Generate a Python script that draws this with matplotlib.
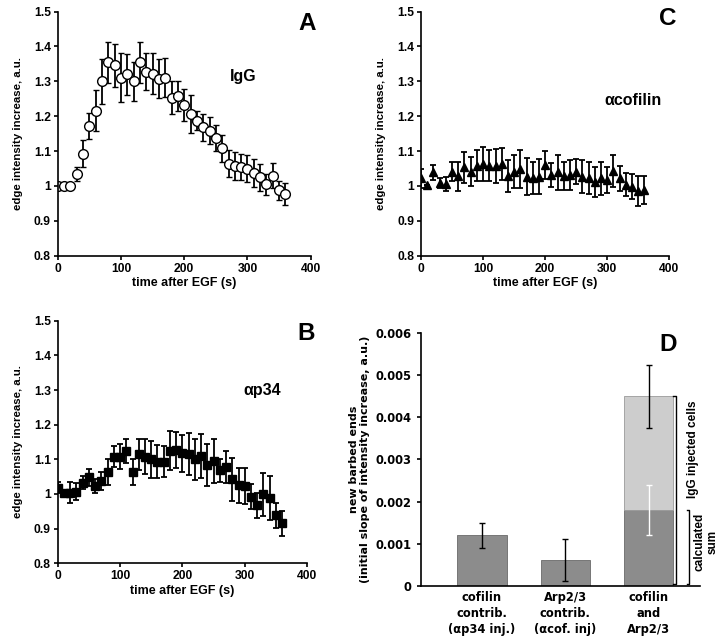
import numpy as np
import matplotlib
matplotlib.use('Agg')
import matplotlib.pyplot as plt
from matplotlib.ticker import FuncFormatter

# time points (s), shared by panels A, B, C
time_s = list(range(0, 370, 10))

# panel A: IgG
igg_mean = [1.0, 1.0, 1.0, 1.035, 1.093, 1.172, 1.216, 1.30, 1.354, 1.346,
            1.31, 1.32, 1.30, 1.355, 1.328, 1.322, 1.308, 1.31, 1.253, 1.258,
            1.231, 1.207, 1.187, 1.168, 1.158, 1.137, 1.108, 1.064, 1.058, 1.055,
            1.049, 1.038, 1.025, 1.005, 1.03, 0.988, 0.977]
igg_err = [0.004, 0.0, 0.0, 0.02, 0.04, 0.037, 0.058, 0.065, 0.058, 0.061,
           0.07, 0.058, 0.055, 0.059, 0.053, 0.058, 0.057, 0.056, 0.048, 0.043,
           0.046, 0.055, 0.027, 0.038, 0.039, 0.037, 0.038, 0.038, 0.04, 0.037,
           0.039, 0.04, 0.038, 0.03, 0.036, 0.027, 0.032]

# panel B: alpha p34
p34_mean = [1.018, 1.002, 1.004, 1.007, 1.033, 1.048, 1.024, 1.038, 1.063, 1.108,
            1.108, 1.124, 1.063, 1.115, 1.108, 1.10, 1.093, 1.093, 1.125, 1.127,
            1.117, 1.115, 1.10, 1.11, 1.084, 1.095, 1.069, 1.079, 1.042, 1.025,
            1.024, 0.992, 0.968, 0.999, 0.989, 0.939, 0.915]
p34_err = [0.016, 0.01, 0.03, 0.025, 0.02, 0.025, 0.02, 0.026, 0.037, 0.031,
           0.036, 0.036, 0.038, 0.045, 0.05, 0.054, 0.048, 0.045, 0.057, 0.051,
           0.053, 0.06, 0.06, 0.064, 0.06, 0.063, 0.033, 0.046, 0.063, 0.051,
           0.052, 0.036, 0.036, 0.063, 0.063, 0.036, 0.036]

# panel C: alpha cofilin
cof_mean = [1.022, 1.003, 1.039, 1.008, 1.006, 1.041, 1.028, 1.053, 1.041, 1.058,
            1.063, 1.058, 1.057, 1.063, 1.029, 1.041, 1.049, 1.026, 1.024, 1.027,
            1.06, 1.031, 1.039, 1.029, 1.031, 1.041, 1.027, 1.022, 1.012, 1.022,
            1.017, 1.043, 1.022, 1.003, 0.998, 0.985, 0.988]
cof_err = [0.027, 0.0, 0.022, 0.015, 0.02, 0.027, 0.042, 0.045, 0.042, 0.045,
           0.05, 0.045, 0.048, 0.047, 0.046, 0.048, 0.054, 0.053, 0.046, 0.05,
           0.04, 0.035, 0.05, 0.04, 0.043, 0.035, 0.048, 0.046, 0.043, 0.048,
           0.038, 0.045, 0.035, 0.033, 0.036, 0.043, 0.041]

# panel D: new barbed ends
bar_labels = ['cofilin\ncontrib.\n(\u03b1p34 inj.)',
              'Arp2/3\ncontrib.\n(\u03b1cof. inj)',
              'cofilin\nand\nArp2/3']
contrib_mean = [0.0012, 0.0006]
contrib_err = [0.0003, 0.0005]
calc_sum = 0.0018
calc_sum_err = 0.0006
igg_total = 0.0045
igg_total_err = 0.00075

ARIAL = ['Liberation Sans', 'DejaVu Sans']
VERDANA = ['DejaVu Sans']


def gfmt(v, pos):
    return '%g' % round(v, 4)


def styleLinePanel(ax):
    ax.set_xlim(0, 400)
    ax.set_ylim(0.8, 1.5)
    ax.set_xticks([0, 100, 200, 300, 400])
    ax.set_yticks(np.arange(0.8, 1.51, 0.1))
    ax.yaxis.set_major_formatter(FuncFormatter(gfmt))
    for s in ['top', 'right']:
        ax.spines[s].set_visible(False)
    for s in ['left', 'bottom']:
        ax.spines[s].set_linewidth(1.2)
    ax.tick_params(direction='out', length=3, width=1.2, labelsize=8.7, pad=2)
    for lab in ax.get_xticklabels() + ax.get_yticklabels():
        lab.set_family(ARIAL)
        lab.set_fontweight('bold')
    ax.set_xlabel('time after EGF (s)', fontsize=9, fontweight='bold', family=ARIAL, labelpad=2)
    ax.set_ylabel('edge intensity increase, a.u.', fontsize=8.2, fontweight='bold', family=ARIAL, labelpad=8)


def panelLetter(ax, letter, x, y):
    ax.text(x, y, letter, transform=ax.transAxes, fontsize=17.5, fontweight='bold', family=ARIAL,
            ha='right', va='top')


fig = plt.figure(figsize=(7.25, 6.41), dpi=100)

# A
axA = fig.add_axes([0.0796, 0.601, 0.349, 0.381])
axA.errorbar(time_s, igg_mean, yerr=igg_err, fmt='o', color='black', mfc='white', mec='black',
             ms=7, mew=1, ecolor='black', elinewidth=1.3, capsize=2.3, capthick=1.3)
styleLinePanel(axA)
panelLetter(axA, 'A', 1.02, 1.0)
axA.text(0.735, 0.732, 'IgG', transform=axA.transAxes, fontsize=11.5, fontweight='bold', family=ARIAL,
         ha='center', va='center')

# C
axC = fig.add_axes([0.5807, 0.601, 0.3425, 0.381])
axC.errorbar(time_s, cof_mean, yerr=cof_err, fmt='^', color='black', ms=6,
             ecolor='black', elinewidth=1.3, capsize=2.3, capthick=1.3)
styleLinePanel(axC)
panelLetter(axC, 'C', 1.03, 1.02)
axC.text(0.852, 0.634, '\u03b1cofilin', transform=axC.transAxes, fontsize=11.5, fontweight='bold',
         family=ARIAL, ha='center', va='center')

# B
axB = fig.add_axes([0.0796, 0.1212, 0.344, 0.3785])
axB.errorbar(time_s, p34_mean, yerr=p34_err, fmt='s', color='black', ms=5.5,
             ecolor='black', elinewidth=1.3, capsize=2.3, capthick=1.3)
styleLinePanel(axB)
panelLetter(axB, 'B', 1.03, 0.995)
axB.text(0.82, 0.711, '\u03b1p34', transform=axB.transAxes, fontsize=11.5, fontweight='bold',
         family=ARIAL, ha='center', va='center')

# D
axD = fig.add_axes([0.5803, 0.0863, 0.3852, 0.3938])
dark = '#8c8c8c'
light = '#cdcdcd'
width = 0.59
xpos = np.arange(len(bar_labels))
axD.bar(xpos[:2], contrib_mean, width=width, color=dark, edgecolor='#6a6a6a', linewidth=0.6)
axD.errorbar(xpos[:2], contrib_mean, yerr=contrib_err, fmt='none', ecolor='black',
             elinewidth=1.0, capsize=2.5, capthick=1.0)
axD.bar(xpos[2], calc_sum, width=width, color=dark, edgecolor='#6a6a6a', linewidth=0.6)
axD.bar(xpos[2], igg_total - calc_sum, bottom=calc_sum, width=width, color=light,
        edgecolor='#9a9a9a', linewidth=0.6)
axD.errorbar([xpos[2]], [calc_sum], yerr=[calc_sum_err], fmt='none', ecolor='white',
             elinewidth=1.0, capsize=2.5, capthick=1.0)
axD.errorbar([xpos[2]], [igg_total], yerr=[igg_total_err], fmt='none', ecolor='black',
             elinewidth=1.0, capsize=2.5, capthick=1.0)

# brackets
bx1 = xpos[2] + width / 2 + 0.035
bx2 = bx1 + 0.16
tick = 0.035
axD.plot([bx1 - tick, bx1, bx1, bx1 - tick], [igg_total, igg_total, 0.00003, 0.00003],
         color='black', lw=1.0, clip_on=False)
axD.plot([bx2 - tick, bx2, bx2, bx2 - tick], [calc_sum, calc_sum, 0.00003, 0.00003],
         color='black', lw=1.0, clip_on=False)
axD.text(bx1 + 0.2, 0.00325, 'IgG injected cells', rotation=90, fontsize=8.5, fontweight='bold',
         family=ARIAL, ha='center', va='center')
axD.text(bx2 + 0.2, 0.00104, 'calculated\nsum', rotation=90, fontsize=8.5, fontweight='bold',
         family=ARIAL, ha='center', va='center', linespacing=1.05)

axD.set_xlim(-0.736, 2.616)
axD.set_ylim(0, 0.006)
axD.set_yticks(np.arange(0, 0.0061, 0.001))
axD.yaxis.set_major_formatter(FuncFormatter(gfmt))
axD.set_xticks(xpos)
axD.set_xticklabels(bar_labels)
axD.tick_params(axis='x', length=0, pad=4)
axD.tick_params(axis='y', direction='out', length=3, width=1.2)
axD.tick_params(labelsize=8.3)
for lab in axD.get_yticklabels():
    lab.set_family(VERDANA)
    lab.set_fontweight('bold')
for lab in axD.get_xticklabels():
    lab.set_family(VERDANA)
    lab.set_fontweight('bold')
    lab.set_linespacing(1.28)
for s in ['top', 'right']:
    axD.spines[s].set_visible(False)
for s in ['left', 'bottom']:
    axD.spines[s].set_linewidth(1.2)
axD.set_ylabel('new barbed ends\n(initial slope of intensity increase, a.u.)', fontsize=8,
               fontweight='bold', family=VERDANA, labelpad=4, linespacing=1.1)
panelLetter(axD, 'D', 0.918, 1.0)

fig.savefig('out.png', dpi=100)
